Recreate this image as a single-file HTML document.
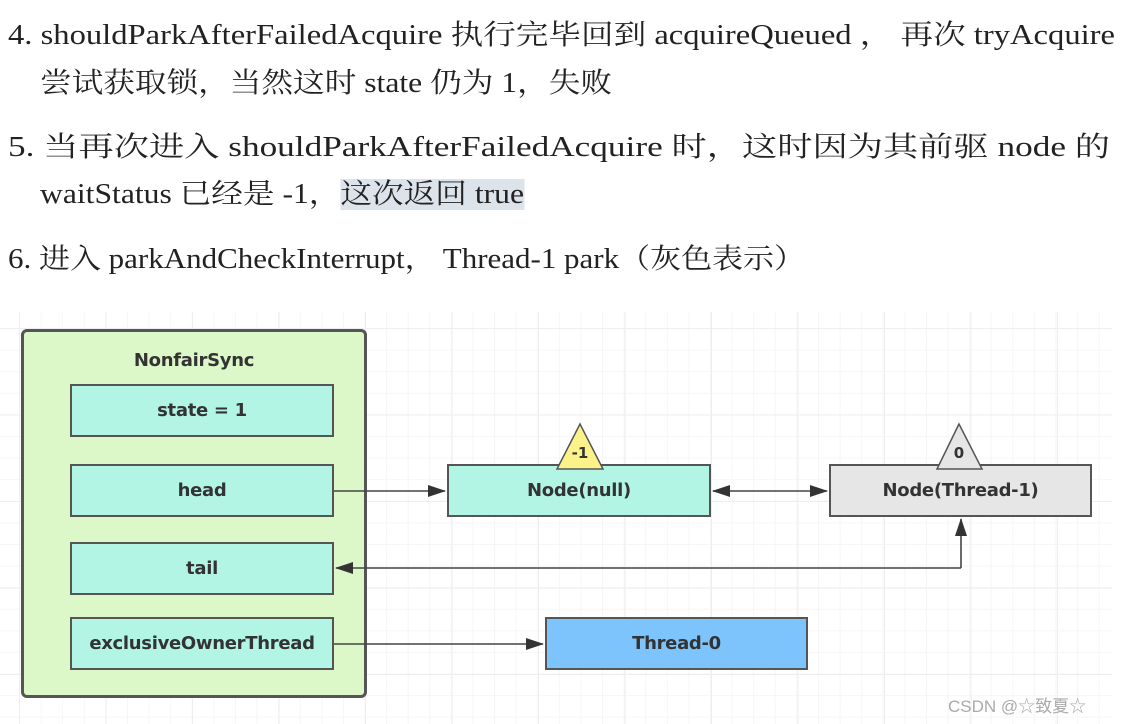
<!DOCTYPE html>
<html><head><meta charset="utf-8"><style>
body{margin:0;width:1122px;height:724px;background:#fff;position:relative;overflow:hidden;font-family:"Liberation Serif","Noto Serif CJK SC",serif;color:#222}
.t{position:absolute;font-size:28px;white-space:nowrap;line-height:36px;transform-origin:0 50%}
.hl{background:#dde3ea}
.grid{position:absolute;left:0;top:312px;width:1112px;height:412px;
background-image:linear-gradient(#eee 1px,transparent 1px),linear-gradient(90deg,#eee 1px,transparent 1px),linear-gradient(#f6f6f6 1px,transparent 1px),linear-gradient(90deg,#f6f6f6 1px,transparent 1px);
background-size:86.5px 86.5px,86.5px 86.5px,21.6px 21.6px,21.6px 21.6px;background-position:19px 16px}
.b{position:absolute;box-sizing:border-box;border:2px solid #555;display:flex;align-items:center;justify-content:center;font:bold 18px "DejaVu Sans","Liberation Sans",sans-serif;color:#333;letter-spacing:-0.3px}
.c{background:#b3f5e4}
</style></head><body>
<div class="t" style="left:8px;top:18px;--w:1107">4. shouldParkAfterFailedAcquire 执行完毕回到 acquireQueued ， 再次 tryAcquire</div>
<div class="t" style="left:40px;top:66px;--w:572">尝试获取锁，当然这时 state 仍为 1，失败</div>
<div class="t" style="left:8px;top:130px;--w:1102">5. 当再次进入 shouldParkAfterFailedAcquire 时，这时因为其前驱 node 的</div>
<div class="t" style="left:40px;top:177px;--w:484">waitStatus 已经是 -1，<span class="hl">这次返回 true</span></div>
<div class="t" style="left:8px;top:242px;--w:797">6. 进入 parkAndCheckInterrupt， Thread-1 park（灰色表示）</div>
<div class="grid"></div>
<div class="b" style="left:21px;top:329px;width:346px;height:369px;background:#dcf8c8;border-radius:6px;border-width:3px;align-items:flex-start;padding-top:18px">NonfairSync</div>
<div class="b c" style="left:70px;top:384px;width:264px;height:53px">state = 1</div>
<div class="b c" style="left:70px;top:464px;width:264px;height:53px">head</div>
<div class="b c" style="left:70px;top:542px;width:264px;height:53px">tail</div>
<div class="b c" style="left:70px;top:617px;width:264px;height:53px">exclusiveOwnerThread</div>
<div class="b c" style="left:447px;top:464px;width:264px;height:53px">Node(null)</div>
<div class="b" style="left:829px;top:464px;width:263px;height:53px;background:#e6e6e6">Node(Thread-1)</div>
<div class="b" style="left:545px;top:617px;width:263px;height:53px;background:#7cc4fb">Thread-0</div>
<svg style="position:absolute;left:0;top:0" width="1122" height="724">
<defs><marker id="a" markerWidth="18" markerHeight="12" refX="17" refY="6" orient="auto" markerUnits="userSpaceOnUse"><path d="M0,0L18,6L0,12z" fill="#333"/></marker></defs>
<g stroke="#444" stroke-width="1.6" fill="none">
<line x1="334" y1="491" x2="445" y2="491" marker-end="url(#a)"/>
<line x1="720" y1="491" x2="827" y2="491" marker-end="url(#a)"/>
<line x1="720" y1="491" x2="713" y2="491" marker-end="url(#a)"/>
<polyline points="961,568 336,568" marker-end="url(#a)"/>
<polyline points="961,568 961,519" marker-end="url(#a)"/>
<line x1="334" y1="644" x2="543" y2="644" marker-end="url(#a)"/>
</g>
<polygon points="580,424 557,469 603,469" fill="#fbf38a" stroke="#555" stroke-width="1.5"/>
<polygon points="959,424 937,469 982,469" fill="#e6e6e6" stroke="#555" stroke-width="1.5"/>
<text x="580" y="458" text-anchor="middle" font-family="DejaVu Sans" font-weight="bold" font-size="15" fill="#333">-1</text>
<text x="959" y="458" text-anchor="middle" font-family="DejaVu Sans" font-weight="bold" font-size="15" fill="#333">0</text>
<text x="948" y="712" font-family="Liberation Sans,Noto Sans CJK SC,sans-serif" font-size="17" fill="#aaa">CSDN @☆致夏☆</text>
</svg>
<script>
document.querySelectorAll('.t').forEach(function(e){var w=parseFloat(getComputedStyle(e).getPropertyValue('--w'));var r=e.getBoundingClientRect().width;if(w&&r)e.style.transform='scaleX('+(w/r)+')';});
</script>
</body></html>
